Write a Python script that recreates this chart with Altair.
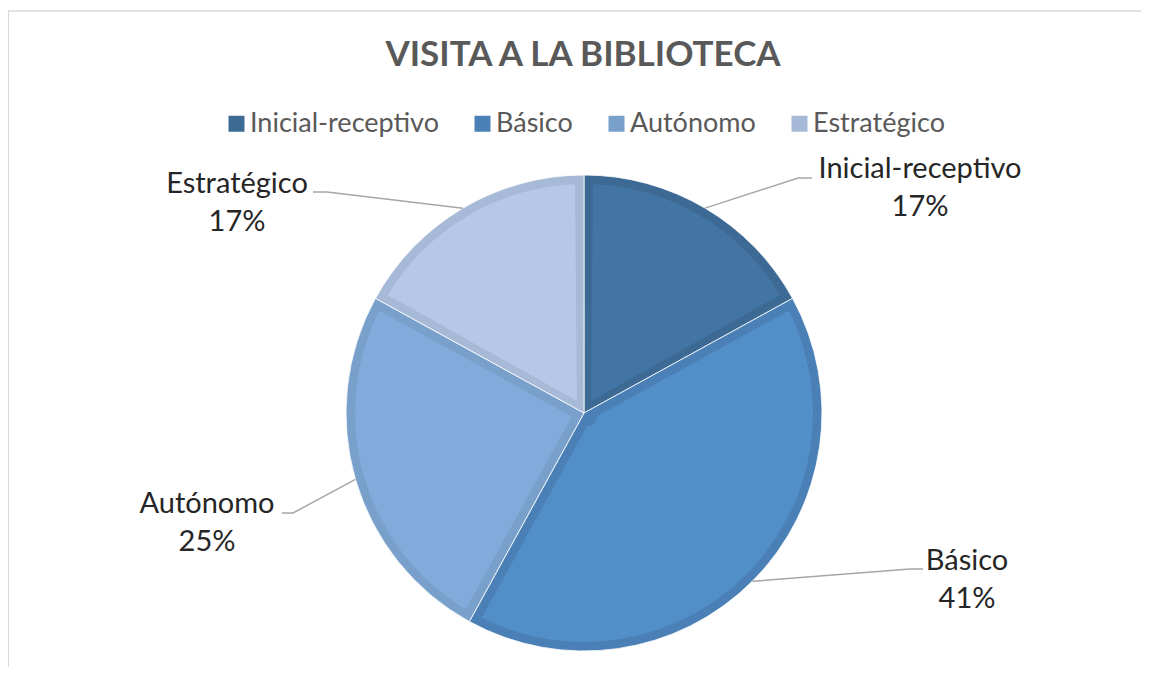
import altair as alt
import pandas as pd
import numpy as np

# ---- data ----
categories = ["Inicial-receptivo", "Básico", "Autónomo", "Estratégico"]
values = [17, 41, 25, 17]
title_text = "VISITA A LA BIBLIOTECA"

# ---- styles / layout ----
fill_colors = ["#4375A4", "#528EC7", "#80ABDB", "#B5C9E6"]
border_colors = ["#3D6A94", "#4A80B5", "#78A0CB", "#A6B9D6"]
W, H = 1133, 659
CX, CY = 576, 405          # pie centre (plot pixels)
R_OUT = 238
BORDER = 9
R_IN_FILL = R_OUT - BORDER
R0 = 14
rp = np.sqrt(R0**2 + R_IN_FILL**2)
PAD = 2 * np.arcsin(BORDER / rp)

# label layout (plot pixels): centre x / first baseline, leader elbow and end
label_pos = [(912, 170), (959, 562), (199, 505), (229, 185)]
leader_elbow = [(790, 170), (902, 561), (285, 505), (319, 184)]
leader_end = [(804, 170), (915, 561), (274, 505), (305, 184)]

FONT = "Lato"

order = list(range(len(categories)))
df = pd.DataFrame({"cat": categories, "value": values, "order": order,
                   "fillc": fill_colors})

total = sum(values)
cum = np.cumsum(values)
mids = 2 * np.pi * (cum - np.array(values) / 2) / total

lab_rows, line_rows = [], []
for i, c in enumerate(categories):
    pct = f"{round(100 * values[i] / total)}%"
    lab_rows.append({"cat": c, "x": label_pos[i][0], "y": label_pos[i][1],
                     "txt": f"{c}\n{pct}"})
    sx = CX + R_OUT * np.sin(mids[i])
    sy = CY - R_OUT * np.cos(mids[i])
    pts = [(sx, sy), leader_elbow[i], leader_end[i]]
    for k, (px, py) in enumerate(pts):
        line_rows.append({"cat": c, "k": k, "x": float(px), "y": float(py)})
lab_df = pd.DataFrame(lab_rows)
line_df = pd.DataFrame(line_rows)

xs = alt.Scale(domain=[0, W], nice=False, zero=False)
ys = alt.Scale(domain=[0, H], nice=False, zero=False, reverse=True)

theta = alt.Theta("value:Q", stack=True)

border_layer = alt.Chart(df).mark_arc(
    outerRadius=R_OUT, stroke="#ffffff", strokeWidth=0.8
).encode(
    theta=theta,
    order=alt.Order("order:Q"),
    x=alt.value(CX), y=alt.value(CY),
    color=alt.Color(
        "cat:N",
        scale=alt.Scale(domain=categories, range=border_colors),
        sort=categories,
        legend=alt.Legend(
            title=None, orient="none", direction="horizontal",
            legendX=215, legendY=102, symbolType="square", symbolSize=256,
            symbolStrokeWidth=0, labelFontSize=27, labelFont=FONT,
            labelColor="#595959", columnPadding=30, labelOffset=0,
            labelLimit=0, padding=0, symbolOffset=0,
        ),
    ),
)

fill_layer = alt.Chart(df).mark_arc(
    outerRadius=R_IN_FILL, innerRadius=R0, padAngle=float(PAD)
).encode(
    theta=theta,
    order=alt.Order("order:Q"),
    x=alt.value(CX), y=alt.value(CY),
    fill=alt.Fill("fillc:N", scale=None, legend=None),
)

lines = alt.Chart(line_df).mark_line(color="#A6A6A6", strokeWidth=1.5).encode(
    x=alt.X("x:Q", scale=xs, axis=None),
    y=alt.Y("y:Q", scale=ys, axis=None),
    detail="cat:N",
    order="k:Q",
)

labels = alt.Chart(lab_df).mark_text(
    font=FONT, fontSize=29, color="#262626", align="center",
    baseline="alphabetic", lineBreak="\n", lineHeight=38,
).encode(
    x=alt.X("x:Q", scale=xs, axis=None),
    y=alt.Y("y:Q", scale=ys, axis=None),
    text="txt:N",
)

title = alt.Chart(pd.DataFrame({"t": [title_text]})).mark_text(
    font=FONT, fontSize=35, fontWeight="bold", color="#595959",
    align="center", baseline="alphabetic",
).encode(x=alt.value(575), y=alt.value(58), text="t:N")

frame_left = alt.Chart(pd.DataFrame({"a": [0]})).mark_rule(
    color="#D9D9D9", strokeWidth=2
).encode(x=alt.value(0), y=alt.value(3), y2=alt.value(H))
frame_top = alt.Chart(pd.DataFrame({"a": [0]})).mark_rule(
    color="#D9D9D9", strokeWidth=1.5
).encode(x=alt.value(0), x2=alt.value(W), y=alt.value(3))

chart = alt.layer(
    frame_left, frame_top, border_layer, fill_layer, lines, labels, title
).resolve_scale(color="independent").properties(
    width=W, height=H, padding=0, autosize="none", background="#ffffff"
).configure_view(stroke=None)

chart.save("out.html", embed_options={"renderer": "svg", "actions": False})
